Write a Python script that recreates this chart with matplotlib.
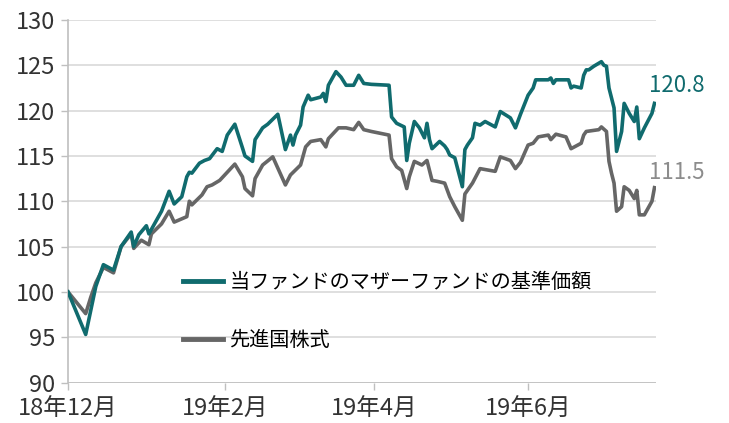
import numpy as np
import pandas as pd
import matplotlib
matplotlib.use('Agg')
import matplotlib.pyplot as plt
import matplotlib.dates as mdates

plt.rcParams['font.family'] = ['Liberation Sans Narrow', 'Noto Sans CJK JP', 'DejaVu Sans']

start = pd.Timestamp('2018-12-01')

# days since 2018-12-01 and values
fund_days = [0, 7, 11, 14, 18, 21, 25, 26, 28, 31, 32, 37, 40, 42, 45, 47, 48, 49, 52, 54,
             56, 59, 61, 63, 66, 69, 70, 73, 74, 77, 79, 83, 86, 88, 89, 90, 92, 93, 95, 96,
             100, 101, 102, 103, 106, 108, 110, 113, 115, 117, 120, 127, 128, 130, 133, 134, 135, 137, 139, 141,
             142, 143, 144, 147, 149, 150, 151, 153, 156, 157, 158, 160, 161, 163, 165, 169, 171, 175, 177, 179,
             182, 183, 184, 185, 190, 191, 192, 193, 198, 199, 200, 203, 204, 205, 206, 208, 211, 212, 213, 214,
             216, 217, 219, 220, 222, 224, 225, 226, 228, 231, 232]
fund_vals = [100.0, 95.3, 100.6, 103.0, 102.4, 105.0, 106.6, 105.0, 106.3, 107.3, 106.4, 108.9, 111.1, 109.7, 110.5, 112.7, 113.2, 113.1, 114.2, 114.5,
             114.7, 115.8, 115.5, 117.3, 118.5, 115.9, 115.0, 114.4, 116.8, 118.1, 118.5, 119.6, 115.7, 117.3, 116.2, 117.3, 118.4, 120.4, 121.7, 121.2,
             121.5, 121.9, 121.0, 122.8, 124.3, 123.7, 122.8, 122.8, 123.9, 123.0, 122.9, 122.8, 119.3, 118.6, 118.2, 114.5, 116.4, 118.8, 118.1, 117.0,
             118.6, 116.8, 115.8, 116.6, 116.1, 115.7, 115.1, 114.8, 111.6, 115.7, 116.2, 117.0, 118.6, 118.4, 118.8, 118.2, 119.9, 119.2, 118.1, 119.6,
             121.7, 122.1, 122.5, 123.4, 123.4, 123.6, 123.0, 123.4, 123.4, 122.5, 122.7, 122.5, 123.9, 124.5, 124.5, 124.9, 125.4, 125.0, 124.9, 122.5,
             120.3, 115.5, 117.7, 120.8, 119.7, 118.8, 120.4, 116.9, 118.1, 119.7, 120.8]

index_days = [0, 7, 9, 11, 14, 18, 21, 25, 26, 29, 32, 33, 37, 40, 42, 47, 48, 49, 53, 55,
              57, 60, 62, 66, 69, 70, 73, 74, 77, 81, 86, 88, 92, 94, 96, 100, 102, 103, 107, 110,
              113, 115, 117, 120, 127, 128, 130, 132, 134, 135, 137, 140, 142, 144, 146, 149, 151, 153, 156, 157,
              160, 163, 169, 171, 175, 177, 179, 182, 184, 186, 190, 191, 193, 197, 199, 203, 204, 205, 210, 211,
              213, 214, 215, 216, 217, 219, 220, 222, 224, 225, 226, 228, 231, 232]
index_vals = [100.0, 97.6, 99.4, 101.0, 102.7, 102.1, 105.0, 106.4, 104.8, 105.7, 105.2, 106.4, 107.5, 108.9, 107.7, 108.3, 110.0, 109.6, 110.7, 111.6,
              111.8, 112.3, 112.9, 114.1, 112.7, 111.4, 110.6, 112.5, 114.0, 114.9, 111.8, 112.9, 114.0, 116.0, 116.6, 116.8, 116.0, 116.9, 118.1, 118.1,
              117.9, 118.7, 117.9, 117.7, 117.3, 114.7, 113.8, 113.4, 111.4, 112.7, 114.4, 114.0, 114.5, 112.3, 112.2, 112.0, 110.5, 109.4, 107.9, 110.8,
              112.0, 113.6, 113.3, 114.9, 114.5, 113.6, 114.3, 116.2, 116.4, 117.1, 117.3, 116.8, 117.4, 117.1, 115.8, 116.4, 117.3, 117.7, 117.9, 118.2,
              117.7, 114.4, 113.1, 112.0, 108.9, 109.4, 111.6, 111.2, 110.3, 111.2, 108.5, 108.5, 110.0, 111.5]

fund_label = '当ファンドのマザーファンドの基準価額'
index_label = '先進国株式'
tick_dates = ['2018-12-01', '2019-02-01', '2019-04-01', '2019-06-01']
tick_labels = ['18年12月', '19年2月', '19年4月', '19年6月']
y_ticks = [90, 95, 100, 105, 110, 115, 120, 125, 130]

teal = '#106b6e'
gray = '#666666'

fund_x = start + pd.to_timedelta(fund_days, unit='D')
index_x = start + pd.to_timedelta(index_days, unit='D')

fig = plt.figure(figsize=(7.29, 4.23), dpi=100)
ax = fig.add_axes([68 / 729, 1 - 382.5 / 423, (656 - 68) / 729, (382.5 - 20) / 423])

ax.plot(fund_x, fund_vals, color=teal, lw=2.6, label=fund_label, solid_joinstyle='round', zorder=3)
ax.plot(index_x, index_vals, color=gray, lw=2.6, label=index_label, solid_joinstyle='round', zorder=2)

ax.set_ylim(90, 130)
ax.set_yticks(y_ticks)
ax.set_xlim(start, start + pd.Timedelta(days=232.6))
ax.set_xticks(pd.to_datetime(tick_dates))
ax.set_xticklabels(tick_labels)

ax.grid(axis='y', color='#d9d9d9', lw=1.2)
ax.set_axisbelow(True)
for s in ['top', 'right', 'bottom']:
    ax.spines[s].set_visible(False)
ax.spines['left'].set_color('#bfbfbf')
ax.spines['left'].set_linewidth(1.2)
ax.axhline(90, color='#bfbfbf', lw=1.2, zorder=1)
ax.tick_params(axis='y', length=5, width=1.0, color='#bfbfbf', pad=4, labelsize=17, labelcolor='#333333')
ax.tick_params(axis='x', length=5, width=1.0, color='#bfbfbf', pad=6, labelsize=17, labelcolor='#333333')

ax.annotate(f'{fund_vals[-1]:.1f}', xy=(fund_x[-1], fund_vals[-1]), xytext=(-4, 13),
            textcoords='offset points', ha='left', va='center', color=teal, fontsize=16)
ax.annotate(f'{index_vals[-1]:.1f}', xy=(index_x[-1], index_vals[-1]), xytext=(-4, 11),
            textcoords='offset points', ha='left', va='center', color='#8c8c8c', fontsize=16)

leg = ax.legend(loc='upper left', bbox_to_anchor=(183 / 729, 1 - 272 / 423), bbox_transform=fig.transFigure,
                frameon=False, fontsize=14.5, handlelength=2.0, handletextpad=0.3, labelspacing=1.85,
                borderpad=0, borderaxespad=0)
for line in leg.get_lines():
    line.set_linewidth(3.5)

fig.savefig('out.png', dpi=100)
